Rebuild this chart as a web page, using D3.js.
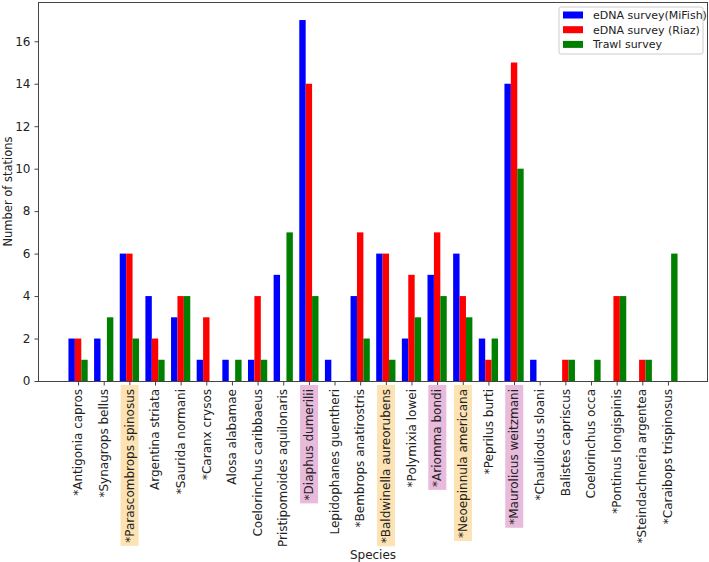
<!DOCTYPE html>
<html>
<head>
<meta charset="utf-8">
<script src="https://cdn.jsdelivr.net/npm/d3@7"></script>
<style>
  body { margin: 0; background: #fff; }
  svg text { font-family: "DejaVu Sans", sans-serif; fill: #222; }
</style>
</head>
<body>
<svg id="chart" width="709" height="562"></svg>
<script>
'use strict';

// data
var species = [
  '*Antigonia capros', '*Synagrops bellus', '*Parascombrops spinosus', 'Argentina striata',
  '*Saurida normani', '*Caranx crysos', 'Alosa alabamae', 'Coelorinchus caribbaeus',
  'Pristipomoides aquilonaris', '*Diaphus dumerilii', 'Lepidophanes guentheri', '*Bembrops anatirostris',
  '*Baldwinella aureorubens', '*Polymixia lowei', '*Ariomma bondi', '*Neoepinnula americana',
  '*Peprilus burti', '*Maurolicus weitzmani', '*Chauliodus sloani', 'Balistes capriscus',
  'Coelorinchus occa', '*Pontinus longispinis', '*Steindachneria argentea', '*Caraibops trispinosus'
];
var mifish = [2, 2, 6, 4, 3, 1, 1, 1, 5, 17, 1, 4, 6, 2, 5, 6, 2, 14, 1, 0, 0, 0, 0, 0];
var riaz   = [2, 0, 6, 2, 4, 3, 0, 4, 0, 14, 0, 7, 6, 5, 7, 4, 1, 15, 0, 1, 0, 4, 1, 0];
var trawl  = [1, 3, 2, 1, 4, 0, 1, 1, 7, 4, 0, 2, 1, 3, 4, 3, 2, 10, 0, 1, 1, 4, 1, 6];
// label highlight: 'o' = orange box, 'p' = pink box
var highlight = { 2: 'o', 9: 'p', 12: 'o', 14: 'p', 15: 'o', 17: 'p' };
var yTicks = [0, 2, 4, 6, 8, 10, 12, 14, 16];

var seriesNames = ['eDNA survey(MiFish)', 'eDNA survey (Riaz)', 'Trawl survey'];
var seriesData = [mifish, riaz, trawl];
var colors = ['#0000ff', '#ff0000', '#008000'];
var hlColors = { o: '#fde2b3', p: '#e8badc' };

var FS = 12;
var margin = { left: 38, right: 1, top: 2, bottom: 181 };
var W = 709, H = 562;
var svg = d3.select('#chart');

var barW = 0.25;
var x = d3.scaleLinear()
  .domain([-1.5625, 24.5625])
  .range([margin.left, W - margin.right]);
var y = d3.scaleLinear()
  .domain([0, 17.85])
  .range([H - margin.bottom, margin.top]);

// bars
seriesData.forEach(function (vals, s) {
  svg.append('g').selectAll('rect')
    .data(vals)
    .enter().append('rect')
    .attr('x', function (d, i) { return x(i + (s - 1) * barW - barW / 2); })
    .attr('width', x(barW) - x(0))
    .attr('y', function (d) { return y(d); })
    .attr('height', function (d) { return y(0) - y(d); })
    .attr('fill', colors[s]);
});

// frame
svg.append('rect')
  .attr('x', margin.left + 0.5).attr('y', margin.top + 0.5)
  .attr('width', W - margin.right - margin.left - 1)
  .attr('height', y(0) - margin.top)
  .attr('fill', 'none').attr('stroke', '#444').attr('stroke-width', 1);

// y axis
var yAxis = svg.append('g')
  .attr('transform', 'translate(' + (margin.left + 0.5) + ',0)')
  .call(d3.axisLeft(y).tickValues(yTicks).tickSize(4).tickPadding(4));
yAxis.select('.domain').remove();
yAxis.selectAll('line').attr('stroke', '#444');
yAxis.selectAll('text').attr('font-size', FS).attr('font-family', '"DejaVu Sans", sans-serif').attr('fill', '#222');

// x axis
var xAxis = svg.append('g')
  .attr('transform', 'translate(0,' + (y(0) + 0.5) + ')')
  .call(d3.axisBottom(x).tickValues(d3.range(species.length)).tickSize(4).tickFormat(''));
xAxis.select('.domain').remove();
xAxis.selectAll('line').attr('stroke', '#444');

// rotated species labels
var labels = svg.append('g');
species.forEach(function (name, i) {
  var g = labels.append('g')
    .attr('transform', 'translate(' + x(i) + ',' + (y(0) + 8) + ') rotate(-90)');
  var t = g.append('text')
    .attr('text-anchor', 'end')
    .attr('dy', '0.35em')
    .attr('font-size', FS)
    .text(name);
  if (highlight[i]) {
    var bb = t.node().getBBox();
    g.insert('rect', 'text')
      .attr('x', bb.x - 3).attr('y', bb.y - 2)
      .attr('width', bb.width + 7).attr('height', bb.height + 4)
      .attr('fill', hlColors[highlight[i]]);
  }
});

// axis titles
svg.append('text')
  .attr('x', (margin.left + W - margin.right) / 2).attr('y', 559)
  .attr('text-anchor', 'middle').attr('font-size', FS)
  .text('Species');
svg.append('text')
  .attr('transform', 'translate(12,' + ((margin.top + y(0)) / 2) + ') rotate(-90)')
  .attr('text-anchor', 'middle').attr('font-size', 11.5)
  .text('Number of stations');

// legend
var lg = svg.append('g').attr('transform', 'translate(559,7)');
lg.append('rect')
  .attr('width', 144).attr('height', 47).attr('rx', 2)
  .attr('fill', 'rgba(255,255,255,0.8)').attr('stroke', '#ccc');
seriesNames.forEach(function (n, s) {
  var row = lg.append('g').attr('transform', 'translate(0,' + (8 + s * 14.7) + ')');
  row.append('rect').attr('x', 4).attr('y', -3.5).attr('width', 20).attr('height', 7).attr('fill', colors[s]);
  row.append('text').attr('x', 34).attr('dy', '0.35em').attr('font-size', 11).text(n);
});
</script>
</body>
</html>
